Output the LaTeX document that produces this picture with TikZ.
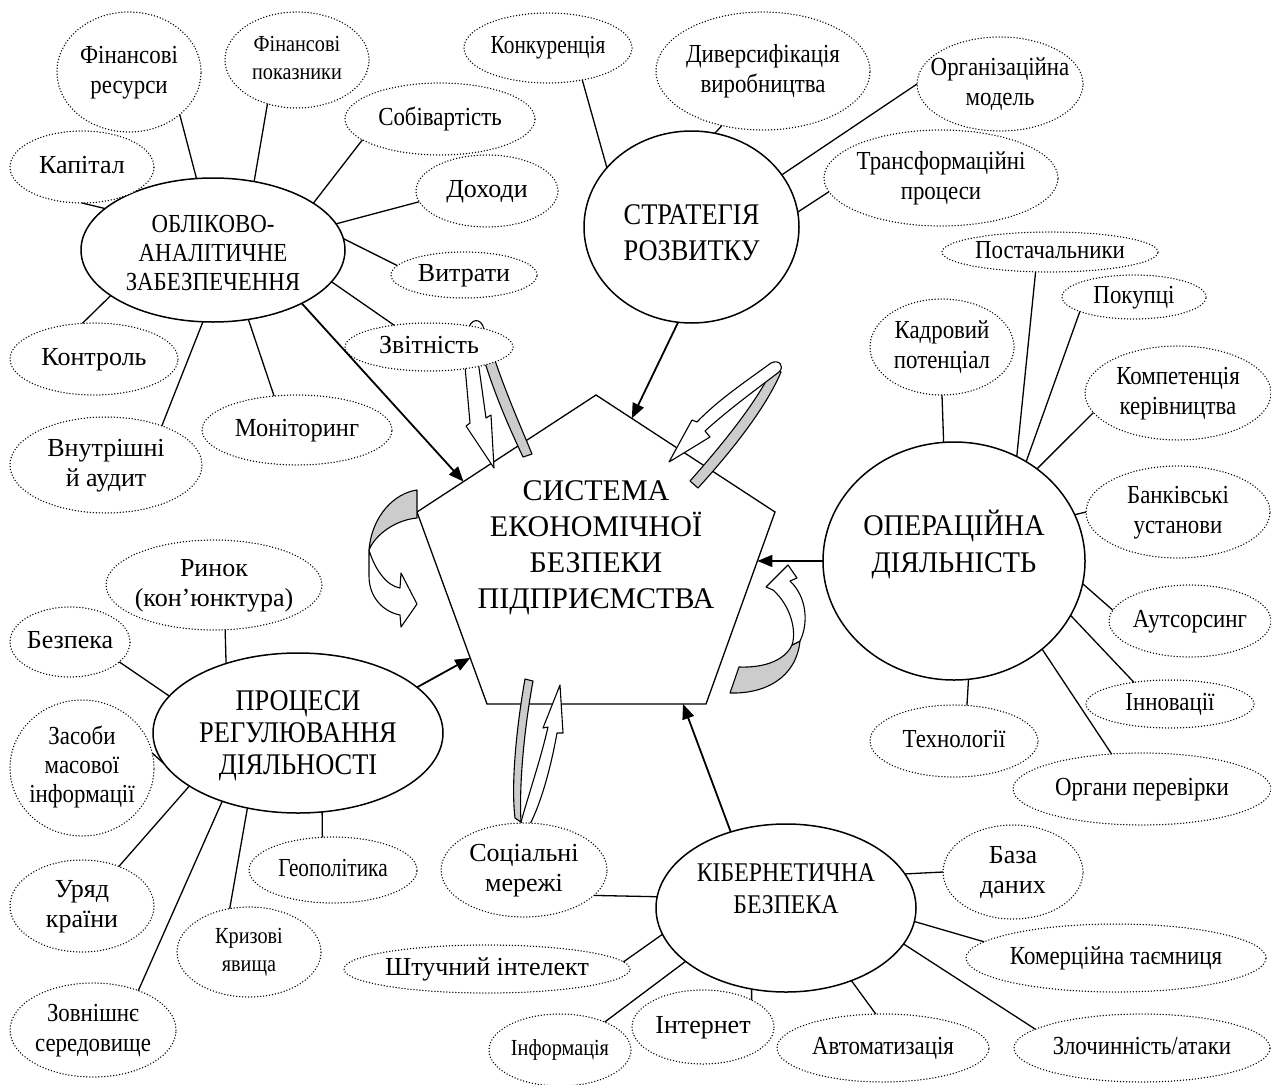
\documentclass[tikz,border=0pt]{standalone}
\usepackage{fontspec}
\setmainfont{Liberation Serif}
\newfontfamily\cnda[FakeStretch=0.82]{Liberation Serif}
\newfontfamily\cndb[FakeStretch=0.88]{Liberation Serif}
\newfontfamily\cndc[FakeStretch=0.94]{Liberation Serif}
\usetikzlibrary{shapes.geometric,arrows.meta,calc}
\newsavebox{\txbox}
\newcommand{\tx}[2][0pt]{%
  \sbox{\txbox}{\begin{tabular}{@{}c@{}}#2\end{tabular}}%
  \makebox[0pt]{\smash{\raisebox{\dimexpr(\dp\txbox-\ht\txbox)/2+#1\relax}{\usebox{\txbox}}}}}

\begin{document}
\begin{tikzpicture}[x=1pt, y=-1pt,
  sat/.style={ellipse, draw, fill=white, line width=1.5pt, line cap=round, dash pattern=on 0pt off 3pt, inner sep=0pt, outer sep=0pt},
  hub/.style={ellipse, draw, fill=white, line width=1.5pt, inner sep=0pt, outer sep=0pt},
  lab/.style={font=\fontsize{26}{30}\selectfont},
  labc/.style={font=\fontsize{26}{30}\selectfont\cndb},
  labs/.style={font=\fontsize{23}{28}\selectfont\cndb},
  link/.style={line width=1.3pt},
  feed/.style={line width=1.8pt, -{Triangle[length=15pt, width=12pt]}},
  band/.style={draw, line width=1.1pt, fill=black!20, line join=round},
  turn/.style={draw, line width=1.1pt, fill=white, line join=round}]

\useasboundingbox (0,0) rectangle (1271,1084);

% pentagon in the middle:
\coordinate (pt) at (596,395);
\coordinate (pr) at (775,512);
\coordinate (plr) at (706,704);
\coordinate (pll) at (487,704);
\coordinate (pl) at (417,512);
\draw[line width=1.3pt] (pt) -- (pr) -- (plr) -- (pll) -- (pl) -- cycle;

% turning arrows round the pentagon:
\draw[band] (476,332) .. controls (490,385) and (508,425) .. (523,457) -- (532,454) .. controls (518,420) and (500,380) .. (486,332) -- cycle;
\draw[turn] (462,332) -- (470,423) -- (466,426) -- (494,468) -- (491,415) -- (486,418) -- (474,332) -- cycle;
\draw[line width=1.1pt] (468,331) .. controls (470,318) and (481,317) .. (484,329);
\draw[band] (690,481) .. controls (720,447) and (755,405) .. (773,368) -- (781,372) .. controls (765,410) and (728,455) .. (698,488) -- cycle;
\draw[turn] (771,363) .. controls (745,382) and (718,400) .. (697,422) -- (692,420) -- (669,462) -- (710,437) -- (705,431) .. controls (728,410) and (758,388) .. (779,372) .. controls (785,366) and (779,359) .. (771,363) -- cycle;
\draw[band] (739,667) .. controls (765,668) and (785,660) .. (792,645) -- (800,641) .. controls (796,678) and (765,694) .. (730,693) -- cycle;
\draw[turn] (792,645) .. controls (797,630) and (790,605) .. (773,590) -- (766,587) -- (788,565) -- (797,578) -- (790,581) .. controls (808,598) and (808,625) .. (800,641) -- cycle;
\draw[band] (417,490) .. controls (395,493) and (372,515) .. (369,550) .. controls (375,535) and (395,520) .. (417,518) -- cycle;
\draw[turn] (369,550) -- (369,576) .. controls (369,598) and (384,612) .. (400,615) -- (401,627) -- (417,604) -- (401,573) -- (400,588) .. controls (387,586) and (375,570) .. (369,550) -- cycle;
\draw[band] (525,679) .. controls (516,730) and (511,785) .. (515,818) -- (521,822) .. controls (519,785) and (524,730) .. (533,681) -- cycle;
\draw[turn] (521,822) .. controls (530,790) and (541,758) .. (548,727) -- (543,728) -- (560,685) -- (563,733) -- (557,733) .. controls (550,772) and (540,805) .. (530,824) .. controls (527,827) and (523,826) .. (521,822) -- cycle;

\node[font=\fontsize{30}{36}\selectfont] (sys) at (596,547) {\tx{СИСТЕМА\\ЕКОНОМІЧНОЇ\\БЕЗПЕКИ\\ПІДПРИЄМСТВА}};

% accounting group:
\node[hub, font=\fontsize{26}{29}\selectfont\cndb, minimum width=264pt, minimum height=144pt] (obl) at (213,250) {\tx[-6pt]{ОБЛІКОВО-\\АНАЛІТИЧНЕ\\ЗАБЕЗПЕЧЕННЯ}};
\node[sat, labc, minimum width=144pt, minimum height=120pt] (fres) at (129,72) {\tx{Фінансові\\ресурси}};
\node[sat, labs, minimum width=144pt, minimum height=96pt] (fpok) at (297,60) {\tx{Фінансові\\показники}};
\node[sat, labc, minimum width=190pt, minimum height=72pt] (sob) at (440,119) {\tx{Собівартість}};
\node[sat, lab, minimum width=144pt, minimum height=72pt] (kap) at (82,167) {\tx{Капітал}};
\node[sat, lab, minimum width=142pt, minimum height=72pt] (doh) at (487,191) {\tx{Доходи}};
\node[sat, lab, minimum width=146pt, minimum height=46pt] (vytr) at (464,275) {\tx{Витрати}};
\node[sat, lab, minimum width=168pt, minimum height=48pt] (zvit) at (429,347) {\tx{Звітність}};
\node[sat, lab, minimum width=168pt, minimum height=72pt] (kontr) at (94,359) {\tx{Контроль}};
\node[sat, lab, minimum width=192pt, minimum height=96pt] (vnut) at (106,465) {\tx{Внутрішні\\й аудит}};
\node[sat, font=\fontsize{26}{30}\selectfont\cndc, minimum width=190pt, minimum height=70pt] (mon) at (297,430) {\tx{Моніторинг}};

% strategy group:
\node[hub, font=\fontsize{30}{36}\selectfont\cndb, minimum width=215pt, minimum height=192pt] (str) at (691.5,227) {\tx[-8pt]{СТРАТЕГІЯ\\РОЗВИТКУ}};
\node[sat, font=\fontsize{26}{30}\selectfont\cnda, minimum width=168pt, minimum height=70pt] (konk) at (548,48) {\tx{Конкуренція}};
\node[sat, labc, minimum width=214pt, minimum height=118pt] (dyv) at (763,71) {\tx{Диверсифікація\\виробництва}};
\node[sat, labc, minimum width=166pt, minimum height=94pt] (org) at (1000,84) {\tx{Організаційна\\модель}};
\node[sat, labc, minimum width=234pt, minimum height=96pt] (trans) at (941,178) {\tx{Трансформаційні\\процеси}};

% operations group:
\node[hub, font=\fontsize{30}{37}\selectfont\cndc, minimum width=262pt, minimum height=238pt] (oper) at (954,561) {\tx[14pt]{ОПЕРАЦІЙНА\\ДІЯЛЬНІСТЬ}};
\node[sat, labc, minimum width=144pt, minimum height=96pt] (kadr) at (942,347) {\tx{Кадровий\\потенціал}};
\node[sat, labc, minimum width=216pt, minimum height=40pt] (post) at (1050,252) {\tx{Постачальники}};
\node[sat, labc, minimum width=144pt, minimum height=44pt] (pok) at (1134,297) {\tx{Покупці}};
\node[sat, labc, minimum width=186pt, minimum height=94pt] (komp) at (1178,393) {\tx{Компетенція\\керівництва}};
\node[sat, labc, minimum width=184pt, minimum height=92pt] (bank) at (1178,512) {\tx{Банківські\\установи}};
\node[sat, labc, minimum width=162pt, minimum height=72pt] (auts) at (1190,621) {\tx{Аутсорсинг}};
\node[sat, labc, minimum width=168pt, minimum height=48pt] (inn) at (1170,704) {\tx{Інновації}};
\node[sat, labc, minimum width=258pt, minimum height=72pt] (perev) at (1142,789) {\tx{Органи перевірки}};
\node[sat, labc, minimum width=168pt, minimum height=72pt] (tech) at (954,741) {\tx{Технології}};

% regulation group:
\node[hub, font=\fontsize{30}{32}\selectfont\cndb, minimum width=290pt, minimum height=160pt] (proc) at (298,733) {\tx[-3pt]{ПРОЦЕСИ\\РЕГУЛЮВАННЯ\\ДІЯЛЬНОСТІ}};
\node[sat, lab, minimum width=216pt, minimum height=90pt] (ryn) at (214,585) {\tx{Ринок\\(кон’юнктура)}};
\node[sat, lab, minimum width=120pt, minimum height=70pt] (bezp) at (70,642) {\tx{Безпека}};
\node[sat, font=\fontsize{26}{29}\selectfont\cndb, minimum width=144pt, minimum height=136pt] (zasoby) at (82,768) {\tx{Засоби\\масової\\інформації}};
\node[sat, lab, minimum width=144pt, minimum height=92pt] (uriad) at (82,906) {\tx{Уряд\\країни}};
\node[sat, labc, minimum width=166pt, minimum height=94pt] (zovn) at (93,1030) {\tx{Зовнішнє\\середовище}};
\node[sat, labs, minimum width=144pt, minimum height=90pt] (kryz) at (249,952) {\tx{Кризові\\явища}};
\node[sat, font=\fontsize{26}{30}\selectfont\cnda, minimum width=168pt, minimum height=66pt] (geo) at (333,870) {\tx{Геополітика}};

% cyber group:
\node[hub, font=\fontsize{27}{32}\selectfont\cndb, minimum width=260pt, minimum height=168pt] (kib) at (786,908) {\tx[17pt]{КІБЕРНЕТИЧНА\\БЕЗПЕКА}};
\node[sat, lab, minimum width=166pt, minimum height=94pt] (soc) at (524,870) {\tx{Соціальні\\мережі}};
\node[sat, lab, minimum width=140pt, minimum height=94pt] (baza) at (1013,872) {\tx{База\\даних}};
\node[sat, labc, minimum width=300pt, minimum height=68pt] (kom) at (1116,958) {\tx{Комерційна таємниця}};
\node[sat, labc, minimum width=256pt, minimum height=68pt] (zloch) at (1142,1048) {\tx{Злочинність/атаки}};
\node[sat, labc, minimum width=212pt, minimum height=68pt] (avt) at (883,1048) {\tx{Автоматизація}};
\node[sat, lab, minimum width=142pt, minimum height=74pt] (int) at (703,1027) {\tx{Інтернет}};
\node[sat, labs, minimum width=142pt, minimum height=72pt] (inf) at (560,1050) {\tx{Інформація}};
\node[sat, lab, minimum width=286pt, minimum height=48pt] (shtuch) at (487,969) {\tx{Штучний інтелект}};

% links:
\draw[link] (obl.103.3) -- (fres.-40.7);
\draw[link] (obl.59.6) -- (fpok.-124);
\draw[link] (obl.25) -- (sob.-165);
\draw[link] (obl.12.8) -- (doh.-171);
\draw[link] (obl.5.7) -- (vytr.172);
\draw[link] (obl.-15.5) -- (zvit.148.6);
\draw[link] (obl.159.8) -- (kap.south);
\draw[link] (obl.-156.8) -- (kontr.108.4);
\draw[link] (obl.-98.6) -- (vnut.35.1);
\draw[link] (obl.-63.4) -- (mon.124.4);
\draw[link] (str.145.7) -- (konk.-43.4);
\draw[link] (str.76.5) -- (dyv.-127);
\draw[link] (str.30.8) -- (org.west);
\draw[link] (str.8.5) -- (trans.-173);
\draw[link] (oper.95.3) -- (kadr.south);
\draw[link] (oper.59.7) -- (post.-126.9);
\draw[link] (oper.54.8) -- (pok.-165);
\draw[link] (oper.48.6) -- (komp.-167.5);
\draw[link] (oper.21.3) -- (bank.west);
\draw[link] (oper.-10.5) -- (auts.172);
\draw[link] (oper.-25.8) -- (inn.149.3);
\draw[link] (oper.-45.6) -- (perev.131.6);
\draw[link] (oper.-83.8) -- (tech.70);
\draw[link] (proc.136.2) -- (ryn.-76);
\draw[link] (proc.164.6) -- (bezp.-22.6);
\draw[link] (proc.-167.9) -- (zasoby.12.1);
\draw[link] (proc.-154) -- (uriad.47.2);
\draw[link] (proc.-138.5) -- (zovn.41.6);
\draw[link] (proc.-124.7) -- (kryz.114);
\draw[link] (proc.-73.3) -- (geo.108.4);
\draw[link] (kib.175) -- (soc.-20.3);
\draw[link] (kib.16.1) -- (baza.west);
\draw[link] (kib.-6) -- (kom.173.2);
\draw[link] (kib.-17) -- (zloch.170.2);
\draw[link] (kib.-48.7) -- (avt.102);
\draw[link] (kib.-113) -- (int.29.6);
\draw[link] (kib.-152.8) -- (inf.32.1);
\draw[link] (kib.-168.8) -- (shtuch.3.8);

% arrows into the system:
\draw[feed] (obl.-31.7) -- ($(pl)!0.26!(pt)$);
\draw[feed] (str.-98) -- ($(pt)!0.2!(pr)$);
\draw[feed] (oper.west) -- ($(pr)!0.255!(plr)$);
\draw[feed] (proc.21.5) -- ($(pl)!0.76!(pll)$);
\draw[feed] (kib.126.6) -- ($(pll)!0.895!(plr)$);

\end{tikzpicture}
\end{document}
